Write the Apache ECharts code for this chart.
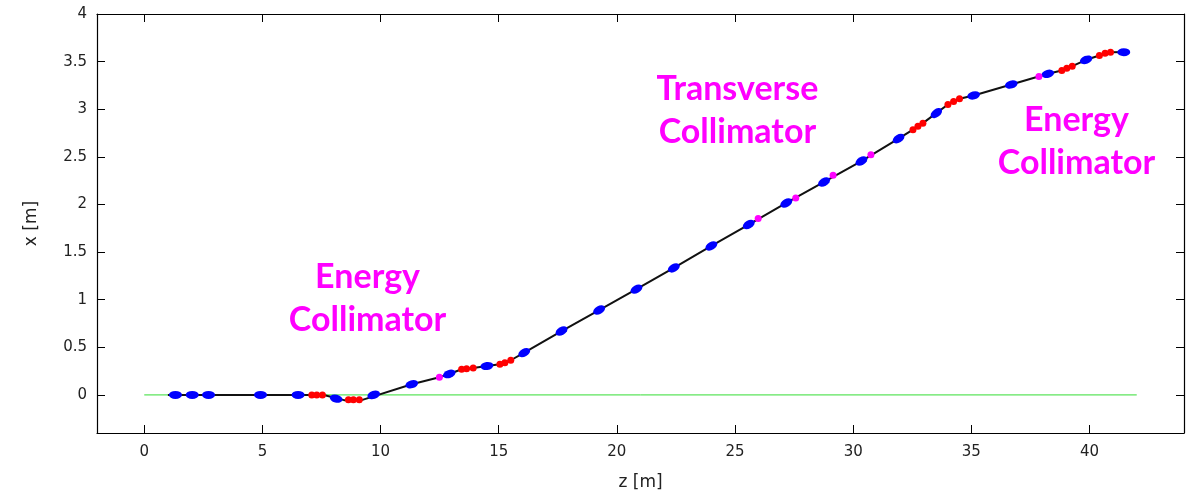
<!DOCTYPE html>
<html>
<head>
<meta charset="utf-8">
<script src="https://cdn.jsdelivr.net/npm/echarts@6/dist/echarts.min.js"></script>
<style>html,body{margin:0;padding:0;background:#fff;}#c{width:1193px;height:493px;}</style>
</head>
<body>
<div id="c"></div>
<script>
// ---- data ----
const xTickValues = [0, 5, 10, 15, 20, 25, 30, 35, 40];
const yTickValues = [0, 0.5, 1, 1.5, 2, 2.5, 3, 3.5, 4];

// beam trajectory (z [m], x [m])
const pathZ = [1.0, 7.6, 8.45, 9.2, 11.32, 12.49, 12.91, 13.43, 13.92, 14.5, 15.05, 15.26, 15.51, 16.08, 17.66, 19.25, 20.83, 22.41, 24.0, 25.58, 27.17, 28.77, 30.35, 31.92, 32.53, 32.95, 33.52, 34.01, 34.5, 35.1, 36.69, 38.24, 38.83, 39.27, 39.86, 40.42, 40.89, 41.7];
const pathX = [0, 0, -0.055, -0.055, 0.112, 0.186, 0.22, 0.27, 0.283, 0.304, 0.322, 0.339, 0.364, 0.444, 0.671, 0.891, 1.111, 1.334, 1.565, 1.789, 2.016, 2.236, 2.456, 2.691, 2.785, 2.854, 2.959, 3.05, 3.11, 3.145, 3.26, 3.372, 3.407, 3.452, 3.519, 3.564, 3.599, 3.6];

// reference line x = 0
const refZ = [0, 42];
const refX = [0, 0];

// blue elements
const blueZ = [1.32, 2.03, 2.72, 4.92, 6.51, 8.12, 9.71, 11.32, 12.91, 14.5, 16.08, 17.66, 19.25, 20.83, 22.41, 24.0, 25.58, 27.17, 28.77, 30.35, 31.92, 33.52, 35.1, 36.69, 38.24, 39.86, 41.45];
const blueX = [0, 0, 0, 0, 0, -0.039, 0, 0.112, 0.22, 0.304, 0.444, 0.671, 0.891, 1.111, 1.334, 1.565, 1.789, 2.016, 2.236, 2.456, 2.691, 2.959, 3.145, 3.26, 3.372, 3.519, 3.599];

// red elements
const redZ = [7.09, 7.30, 7.54, 8.64, 8.85, 9.10, 13.43, 13.64, 13.92, 15.05, 15.26, 15.51, 32.53, 32.74, 32.95, 34.01, 34.25, 34.5, 38.83, 39.04, 39.27, 40.42, 40.66, 40.89];
const redX = [0, 0, 0, -0.052, -0.052, -0.05, 0.27, 0.276, 0.283, 0.322, 0.339, 0.364, 2.785, 2.82, 2.854, 3.05, 3.082, 3.11, 3.407, 3.431, 3.452, 3.564, 3.588, 3.599];

// magenta elements
const magZ = [12.49, 25.98, 27.57, 29.15, 30.75, 37.86];
const magX = [0.186, 1.852, 2.068, 2.306, 2.523, 3.344];

// annotations
const annoZ = [9.45, 25.1, 39.45];
const annoX = [1.01, 2.99, 2.66];
const annoText = ['Energy\nCollimator', 'Transverse\nCollimator', 'Energy\nCollimator'];

// ---- chart ----
const zip = (a, b) => a.map((v, i) => [v, b[i]]);
const chart = echarts.init(document.getElementById('c'), null, {renderer: 'canvas'});
const labelFont = {fontFamily: 'DejaVu Sans', fontSize: 15, color: '#222'};
const ellipse = 'path://M0,6 A10,6 0 1,1 20,6 A10,6 0 1,1 0,6 Z';

function axisCommon(ticks, showLabel, margin) {
  return {
    axisLine: {show: true, onZero: false, lineStyle: {color: '#000', width: 1.2}},
    axisTick: {show: true, inside: true, length: 8, customValues: ticks, lineStyle: {color: '#000', width: 1}},
    axisLabel: Object.assign({show: showLabel, customValues: ticks, margin: margin}, labelFont),
    splitLine: {show: false}
  };
}

const baseOption = {
  animation: false,
  backgroundColor: '#fff',
  grid: {left: 97, right: 9, top: 14, bottom: 60, containLabel: false, outerBoundsMode: 'none'},
  xAxis: [
    Object.assign({type: 'value', min: -2, max: 44, position: 'bottom', name: 'z [m]', nameLocation: 'middle', nameGap: 41,
      nameTextStyle: {fontFamily: 'DejaVu Sans', fontSize: 17, color: '#222'}}, axisCommon(xTickValues, true, 12)),
    Object.assign({type: 'value', min: -2, max: 44, position: 'top'}, axisCommon(xTickValues, false, 12))
  ],
  yAxis: [
    Object.assign({type: 'value', min: -0.4, max: 4, position: 'left', name: 'x [m]', nameLocation: 'middle', nameGap: 57, nameRotate: 90,
      nameTextStyle: {fontFamily: 'DejaVu Sans', fontSize: 17, color: '#222'}}, axisCommon(yTickValues, true, 10)),
    Object.assign({type: 'value', min: -0.4, max: 4, position: 'right'}, axisCommon(yTickValues, false, 10))
  ],
  series: [
    {type: 'line', data: zip(refZ, refX), symbol: 'none', lineStyle: {color: '#33dd33', width: 1}, silent: true, z: 1},
    {type: 'line', data: zip(pathZ, pathX), symbol: 'none', lineStyle: {color: '#111', width: 2}, silent: true, z: 2},
    {id: 'blue', type: 'scatter', data: zip(blueZ, blueX), symbol: ellipse, symbolSize: [13, 8], itemStyle: {color: '#0000ff', opacity: 1}, z: 3},
    {type: 'scatter', data: zip(redZ, redX), symbol: 'circle', symbolSize: 7, itemStyle: {color: '#ff0000', opacity: 1}, z: 4},
    {type: 'scatter', data: zip(magZ, magX), symbol: 'circle', symbolSize: 7, itemStyle: {color: '#ff00ff', opacity: 1}, z: 5}
  ]
};
chart.setOption(baseOption);

// orient blue elements along the beam path
function interp(z) {
  for (let i = 0; i < pathZ.length - 1; i++) {
    if (z >= pathZ[i] && z <= pathZ[i + 1]) {
      const t = (z - pathZ[i]) / (pathZ[i + 1] - pathZ[i]);
      return pathX[i] + t * (pathX[i + 1] - pathX[i]);
    }
  }
  return z < pathZ[0] ? pathX[0] : pathX[pathX.length - 1];
}
const blueData = blueZ.map((z, i) => {
  const a = chart.convertToPixel({gridIndex: 0}, [z - 0.3, interp(z - 0.3)]);
  const b = chart.convertToPixel({gridIndex: 0}, [z + 0.3, interp(z + 0.3)]);
  const ang = Math.atan2(-(b[1] - a[1]), b[0] - a[0]) * 180 / Math.PI;
  return {value: [z, blueX[i]], symbolRotate: ang};
});

// annotations anchored at data coordinates
const graphics = annoZ.map((z, i) => {
  const p = chart.convertToPixel({gridIndex: 0}, [z, annoX[i]]);
  return {
    type: 'text', x: p[0], y: p[1], z: 100,
    style: {text: annoText[i], fill: '#ff00ff', fontFamily: 'Lato', fontWeight: 'bold', fontSize: 34,
      lineHeight: 43, align: 'center', verticalAlign: 'middle'}
  };
});
chart.setOption({series: [{id: 'blue', data: blueData}], graphic: graphics});
</script>
</body>
</html>
